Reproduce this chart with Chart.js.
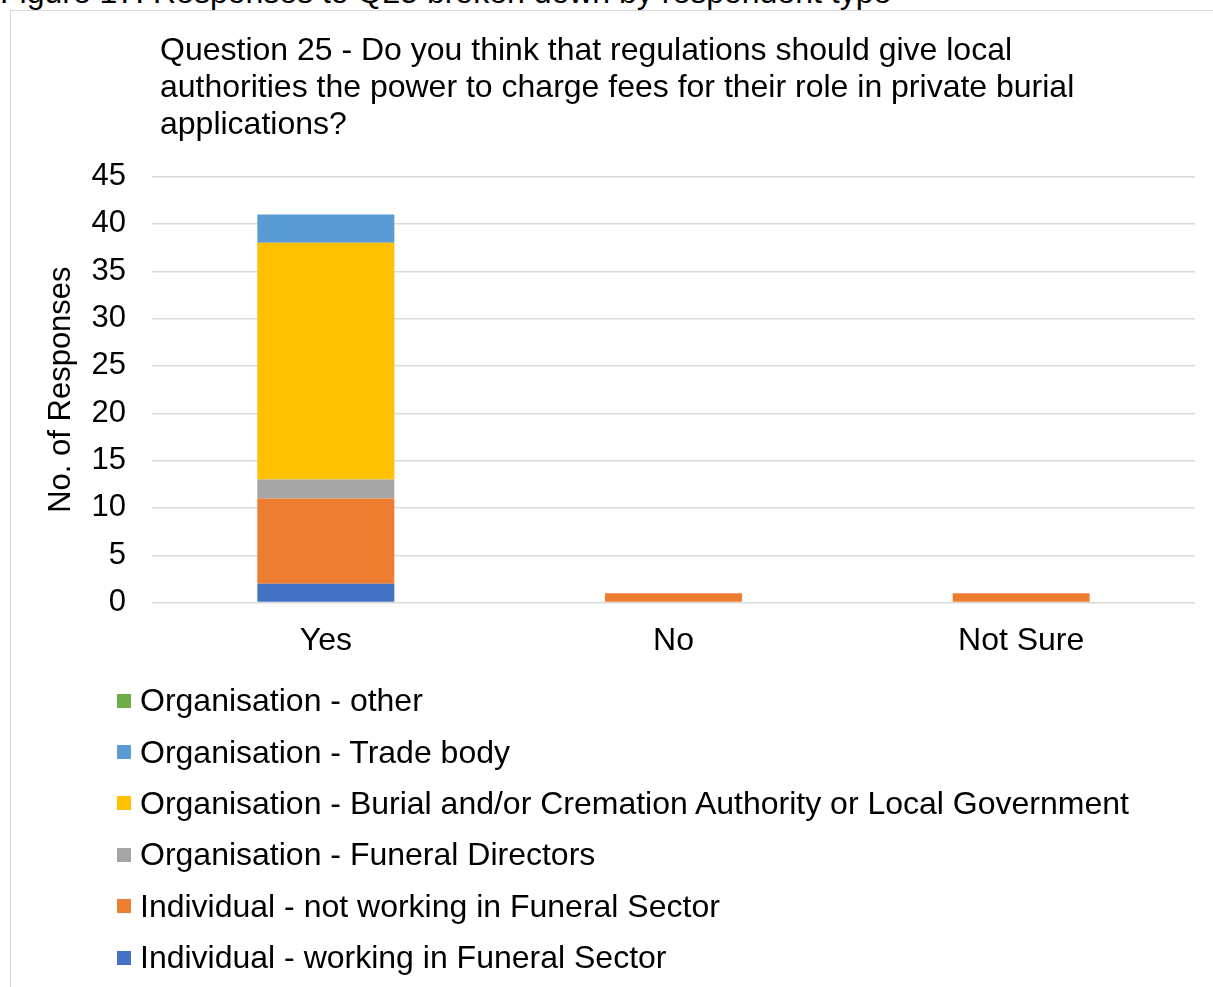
<!DOCTYPE html>
<html>
<head>
<meta charset="utf-8">
<title>Question 25 responses</title>
<script src="https://cdn.jsdelivr.net/npm/chart.js@4.4.1/dist/chart.umd.min.js"></script>
<style>
  html, body { margin: 0; padding: 0; background: #fff; }
  body { width: 1213px; height: 987px; position: relative; overflow: hidden;
         font-family: "Liberation Sans", Arial, sans-serif; color: #000; }
  .caption { position: absolute; left: 0; top: -24px; font-size: 32px; line-height: 32px; white-space: nowrap; }
  .frame { position: absolute; left: 10px; top: 10px; width: 1210px; height: 1000px;
           border: 1.5px solid #D9D9D9; box-sizing: border-box; }
  .title { position: absolute; left: 160px; top: 31px; font-size: 32px; line-height: 37px; z-index: 1; }
  #chartWrap { position: absolute; left: 0; top: 132px; }
  #legend { position: absolute; left: 117px; top: 675px; }
  .legend-item { height: 51.4px; display: flex; align-items: center; font-size: 32px; white-space: nowrap; }
  .legend-box { width: 14px; height: 14px; margin-right: 9px; flex: none; }
</style>
</head>
<body>
<div class="caption">Figure 17: Responses to Q25 broken down by respondent type</div>
<div class="frame"></div>
<div id="chartWrap"><canvas id="myChart" width="1213" height="548"></canvas></div>
<div class="title">Question 25 - Do you think that regulations should give local<br>authorities the power to charge fees for their role in private burial<br>applications?</div>
<div id="legend"></div>

<script>
// answers along the x axis
var categories = ['Yes', 'No', 'Not Sure'];

// responses per respondent type, stacked bottom to top
var indWorking         = [2, 0, 0];
var indNotWorking      = [9, 1, 1];
var orgFuneralDirector = [2, 0, 0];
var orgBurialAuthority = [25, 0, 0];
var orgTradeBody       = [3, 0, 0];
var orgOther           = [0, 0, 0];

var yMax = 45;
var yStep = 5;

(function(){

  window.addEventListener('load', function() {
    app.init();
  })

  var app = {

    init: function() {
      app.chart = app.build();
      app.legend();
    },

    /*******************************
    * Stacked bar chart
    ********************************/
    build: function() {
      Chart.defaults.font.family = '"Liberation Sans", Arial, sans-serif';
      Chart.defaults.color = '#000';

      var series = [
        { label: 'Individual - working in Funeral Sector', data: indWorking, color: '#4472C4' },
        { label: 'Individual - not working in Funeral Sector', data: indNotWorking, color: '#ED7D31' },
        { label: 'Organisation - Funeral Directors', data: orgFuneralDirector, color: '#A5A5A5' },
        { label: 'Organisation - Burial and/or Cremation Authority or Local Government', data: orgBurialAuthority, color: '#FFC000' },
        { label: 'Organisation - Trade body', data: orgTradeBody, color: '#5B9BD5' },
        { label: 'Organisation - other', data: orgOther, color: '#70AD47' }
      ];

      var ctx = document.getElementById('myChart');

      return new Chart(ctx, {
        type: 'bar',
        data: {
          labels: categories,
          datasets: series.map(function(s) {
            return {
              label: s.label,
              data: s.data,
              backgroundColor: s.color,
              borderWidth: 0,
              barPercentage: 0.394,
              categoryPercentage: 1
            };
          })
        },
        options: {
          responsive: false,
          animation: false,
          layout: { padding: { top: 10, right: 18, bottom: 1, left: 0 } },
          plugins: {
            legend: { display: false },
            tooltip: { enabled: false }
          },
          scales: {
            x: {
              stacked: true,
              grid: { display: false, drawTicks: false },
              border: { display: false },
              ticks: { padding: 19, font: { size: 32 } }
            },
            y: {
              stacked: true,
              min: 0,
              max: yMax,
              afterFit: function(scale) { scale.width = 152; },
              grid: { color: '#D9D9D9', lineWidth: 1.5, drawTicks: false },
              border: { display: false },
              ticks: { stepSize: yStep, padding: 26, font: { size: 31 } },
              title: {
                display: true,
                text: 'No. of Responses',
                font: { size: 31 },
                padding: { top: 43, bottom: 0 }
              }
            }
          }
        }
      });
    },

    /*******************************
    * Legend, one entry per line, top series first
    ********************************/
    legend: function() {
      var box = document.getElementById('legend');
      var sets = app.chart.data.datasets.slice().reverse();

      sets.forEach(function(ds) {
        var row = document.createElement('div');
        row.className = 'legend-item';
        var swatch = document.createElement('span');
        swatch.className = 'legend-box';
        swatch.style.background = ds.backgroundColor;
        var text = document.createElement('span');
        text.textContent = ds.label;
        row.appendChild(swatch);
        row.appendChild(text);
        box.appendChild(row);
      })
    }
  }

})()
</script>
</body>
</html>
